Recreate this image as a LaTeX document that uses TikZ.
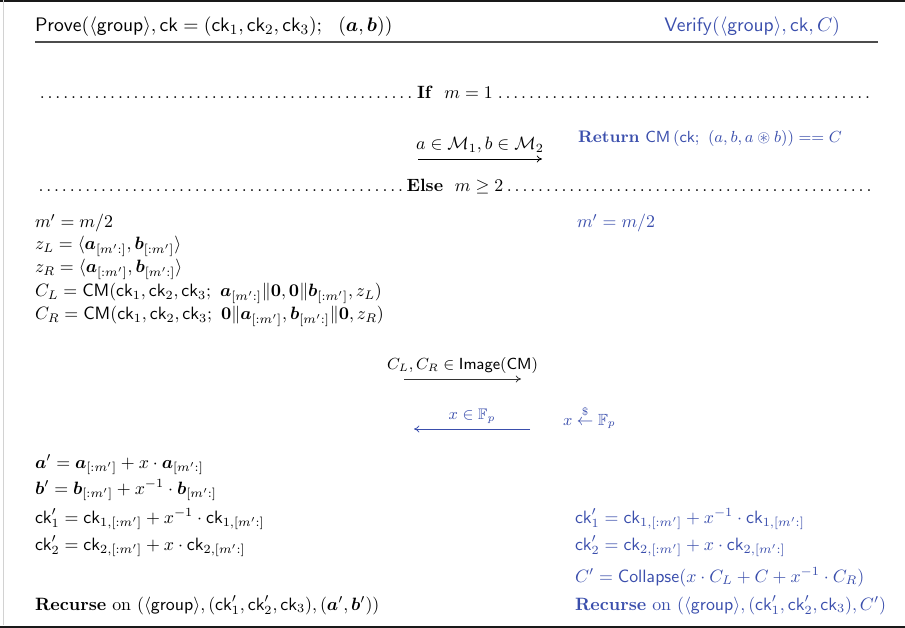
\documentclass[tikz,border=0pt]{standalone}
\usepackage{amsmath,amssymb,bm}
\usetikzlibrary{arrows.meta}
\definecolor{vblue}{RGB}{58,78,172}
\newcommand{\myck}{\mathsf{ck}}
\newcommand{\mygrp}{\langle\mathsf{group}\rangle}
\tikzset{
  txt/.style={anchor=base west, inner sep=0pt, outer sep=0pt},
  ver/.style={txt, text=vblue},
  lbl/.style={above=3pt, inner sep=0pt},
  msg/.style={-{To[length=3pt,width=4pt]}, line width=0.45pt},
  frame/.style={line width=1.1pt, black!90},
  hdr/.style={font=\fontsize{11.1}{13}\selectfont},
  sect/.style={txt, font=\fontsize{9.95}{12}\selectfont, text width=840*0.56pt},
}
\begin{document}
\begin{tikzpicture}[x=0.56pt, y=-0.56pt]
\useasboundingbox (0,0) rectangle (905,628);
% frame
\draw[frame] (0,0.8) -- (905,0.8);
\draw[gray!35, line width=0.5pt] (3,0) -- (3,625);
\draw[frame] (0,627) -- (905,627);
\draw[line width=0.8pt, black!70] (35,42) -- (878,42);
% header
\node[txt, hdr] (prove) at (35,32) {$\mathsf{Prove}(\mygrp, \myck = (\myck_1, \myck_2, \myck_3);\ \ (\bm{a}, \bm{b}))$};
\node[ver, hdr, anchor=base east] (verify) at (840,32) {$\mathsf{Verify}(\mygrp, \myck, C)$};
% If line
\node[sect] (ifline) at (35,99) {\dotfill\textbf{If}~~$m = 1$\dotfill};
\coordinate (a1s) at (418,159);
\coordinate (a1e) at (542,159);
\draw[msg] (a1s) -- node[lbl, font=\fontsize{9.95}{12}\selectfont] (a1l) {$a\in\mathcal{M}_1, b\in\mathcal{M}_2$} (a1e);
\node[ver, font=\fontsize{9.35}{11}\selectfont] (ret) at (578,143) {\textbf{Return} $\mathsf{CM}\,(\myck;\ (a, b, a\circledast b)) == C$};
% Else line
\node[sect] (elseline) at (35,192) {\dotfill\textbf{Else}~~$m \geq 2$\dotfill};
% prover left
\node[txt] (p1) at (35,228) {$m' = m/2$};
\node[txt] (p2) at (35,250) {$z_L = \langle \bm{a}_{[m':]}, \bm{b}_{[:m']}\rangle$};
\node[txt] (p3) at (35,273) {$z_R = \langle \bm{a}_{[:m']}, \bm{b}_{[m':]}\rangle$};
\node[txt] (p4) at (35,297) {$C_L = \mathsf{CM}(\myck_1, \myck_2, \myck_3;\ \bm{a}_{[m':]}\|\bm{0}, \bm{0}\|\bm{b}_{[:m']}, z_L)$};
\node[txt] (p5) at (35,320) {$C_R = \mathsf{CM}(\myck_1, \myck_2, \myck_3;\ \bm{0}\|\bm{a}_{[:m']}, \bm{b}_{[m':]}\|\bm{0}, z_R)$};
\node[ver] (v1) at (577,228) {$m' = m/2$};
% messages
\coordinate (a2s) at (404,379);
\coordinate (a2e) at (521,379);
\draw[msg, black!80] (a2s) -- node[lbl, text=black, font=\fontsize{9.15}{11}\selectfont] (a2l) {$C_L, C_R \in \mathsf{Image}(\mathsf{CM})$} (a2e);
\coordinate (a3s) at (530,429);
\coordinate (a3e) at (414,429);
\draw[msg, vblue] (a3s) -- node[lbl, font=\fontsize{8.55}{10}\selectfont] (a3l) {$x\in\mathbb{F}_p$} (a3e);
\node[ver, font=\fontsize{9.05}{11}\selectfont] (v2) at (563,425) {$x \stackrel{\$}{\leftarrow} \mathbb{F}_p$};
% prover bottom
\node[txt] (q1) at (35,468) {$\bm{a}' = \bm{a}_{[:m']} + x\cdot \bm{a}_{[m':]}$};
\node[txt] (q2) at (35,494) {$\bm{b}' = \bm{b}_{[:m']} + x^{-1}\cdot \bm{b}_{[m':]}$};
\node[txt] (q3) at (35,523) {$\myck_1' = \myck_{1,[:m']} + x^{-1}\cdot \myck_{1,[m':]}$};
\node[txt] (q4) at (35,550) {$\myck_2' = \myck_{2,[:m']} + x\cdot \myck_{2,[m':]}$};
\node[txt] (q5) at (35,610) {\textbf{Recurse} on $(\mygrp, (\myck_1', \myck_2', \myck_3), (\bm{a}', \bm{b}'))$};
% verifier bottom
\node[ver] (w1) at (575,523) {$\myck_1' = \myck_{1,[:m']} + x^{-1}\cdot \myck_{1,[m':]}$};
\node[ver] (w2) at (575,550) {$\myck_2' = \myck_{2,[:m']} + x\cdot \myck_{2,[m':]}$};
\node[ver] (w3) at (575,582) {$C' = \mathsf{Collapse}(x\cdot C_L + C + x^{-1}\cdot C_R)$};
\node[ver] (w4) at (575,610) {\textbf{Recurse} on $(\mygrp, (\myck_1', \myck_2', \myck_3), C')$};
\end{tikzpicture}
\end{document}
